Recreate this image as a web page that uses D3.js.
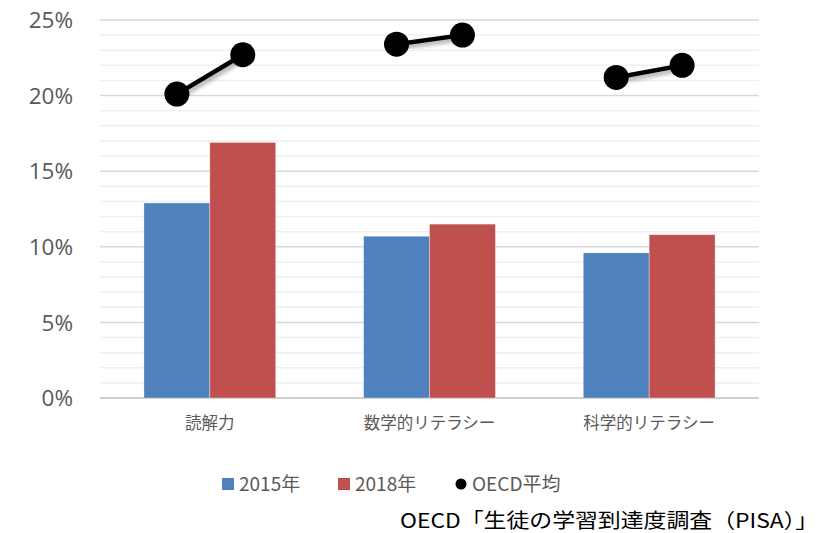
<!DOCTYPE html>
<html>
<head>
<meta charset="utf-8">
<script src="https://cdn.jsdelivr.net/npm/d3@7"></script>
<style>
  body { margin: 0; background: #fff; }
  text { font-family: "Noto Sans CJK JP", "Noto Sans", sans-serif; }
</style>
</head>
<body>
<script>
// data
const categories = ["読解力", "数学的リテラシー", "科学的リテラシー"];
const y2015 = [12.9, 10.7, 9.6];
const y2018 = [16.9, 11.5, 10.8];
const oecd2015 = [20.1, 23.4, 21.2];
const oecd2018 = [22.7, 24.0, 22.0];
const yTicks = [0, 5, 10, 15, 20, 25];
const seriesNames = ["2015年", "2018年", "OECD平均"];
const sourceNote = "OECD「生徒の学習到達度調査（PISA）」";

const width = 821, height = 533;
const plotLeft = 100, plotRight = 759, plotTop = 20, plotBottom = 398;

const svg = d3.select("body").append("svg")
    .attr("width", width).attr("height", height);

const defs = svg.append("defs");
const f = defs.append("filter").attr("id", "shadow")
    .attr("x", "-20%").attr("y", "-50%").attr("width", "140%").attr("height", "200%");
f.append("feDropShadow").attr("dx", 2).attr("dy", 3).attr("stdDeviation", 2)
    .attr("flood-color", "#000").attr("flood-opacity", 0.35);

let y = d3.scaleLinear().domain([0, 25]).range([plotBottom, plotTop]);
let x0 = d3.scaleBand().domain(categories).range([plotLeft, plotRight])
    .paddingInner(0.4).paddingOuter(0.2);
let x1 = d3.scaleBand().domain([0, 1]).range([0, x0.bandwidth()]);

// minor gridlines
svg.append("g").selectAll("line")
    .data(d3.range(1, 25).filter(v => v % 5 != 0))
    .join("line")
    .attr("x1", plotLeft).attr("x2", plotRight)
    .attr("y1", d => y(d)).attr("y2", d => y(d))
    .attr("stroke", "#efefef").attr("stroke-width", 1.5);

// major gridlines
svg.append("g").selectAll("line")
    .data(yTicks)
    .join("line")
    .attr("x1", plotLeft).attr("x2", plotRight)
    .attr("y1", d => y(d)).attr("y2", d => y(d))
    .attr("stroke", d => d == 0 ? "#cfcfcf" : "#d9d9d9")
    .attr("stroke-width", d => d == 0 ? 2 : 1.5);

// y axis labels
svg.append("g").selectAll("text")
    .data(yTicks)
    .join("text")
    .attr("x", 73).attr("y", d => y(d))
    .attr("dy", "0.36em")
    .attr("text-anchor", "end")
    .style("font-family", "'Open Sans', sans-serif")
    .attr("font-size", 22.5)
    .attr("fill", "#595959")
    .text(d => d + "%");

// bars
const barData = [];
categories.forEach((c, i) => {
    barData.push({ c: c, k: 0, v: y2015[i] });
    barData.push({ c: c, k: 1, v: y2018[i] });
});
const colors = ["#4f81bd", "#c0504d"];
svg.append("g").selectAll("rect")
    .data(barData)
    .join("rect")
    .attr("x", d => x0(d.c) + x1(d.k))
    .attr("y", d => y(d.v))
    .attr("width", x1.bandwidth())
    .attr("height", d => y(0) - y(d.v))
    .attr("fill", d => colors[d.k])
    .attr("stroke", "#fff").attr("stroke-opacity", 0.5).attr("stroke-width", 0.7);

// category labels
svg.append("g").selectAll("text")
    .data(categories)
    .join("text")
    .attr("x", d => x0(d) + x0.bandwidth() / 2)
    .attr("y", 423)
    .attr("dy", "0.35em")
    .attr("text-anchor", "middle")
    .attr("font-size", 16.5)
    .attr("fill", "#595959")
    .text(d => d);

// OECD average pairs
const g = svg.append("g");
categories.forEach((c, i) => {
    const pts = [[x0(c) + x1(0) + x1.bandwidth() / 2, y(oecd2015[i])],
                 [x0(c) + x1(1) + x1.bandwidth() / 2, y(oecd2018[i])]];
    g.append("path")
        .attr("d", d3.line()(pts))
        .attr("stroke", "#000").attr("stroke-width", 4.5)
        .attr("fill", "none")
        .attr("filter", "url(#shadow)");
    g.selectAll(null).data(pts).join("circle")
        .attr("cx", d => d[0]).attr("cy", d => d[1])
        .attr("r", 12.5).attr("fill", "#000");
});

// legend
const lg = svg.append("g").attr("font-size", 19).attr("fill", "#595959");
const legX = [222, 338, 455];
legX.forEach((lx, i) => {
    if (i < 2) {
        lg.append("rect").attr("x", lx).attr("y", 478).attr("width", 12).attr("height", 12)
            .attr("fill", colors[i]);
    } else {
        lg.append("circle").attr("cx", lx + 6).attr("cy", 484).attr("r", 5.5).attr("fill", "#000");
    }
    lg.append("text").attr("x", lx + 17).attr("y", 484).attr("dy", "0.36em")
        .attr("fill", "#595959")
        .text(seriesNames[i]);
});

// source note
svg.append("text")
    .attr("x", 400).attr("y", 521).attr("dy", "0.36em")
    .attr("font-size", 20)
    .attr("textLength", 418)
    .attr("lengthAdjust", "spacingAndGlyphs")
    .attr("fill", "#000")
    .text(sourceNote);
</script>
</body>
</html>
